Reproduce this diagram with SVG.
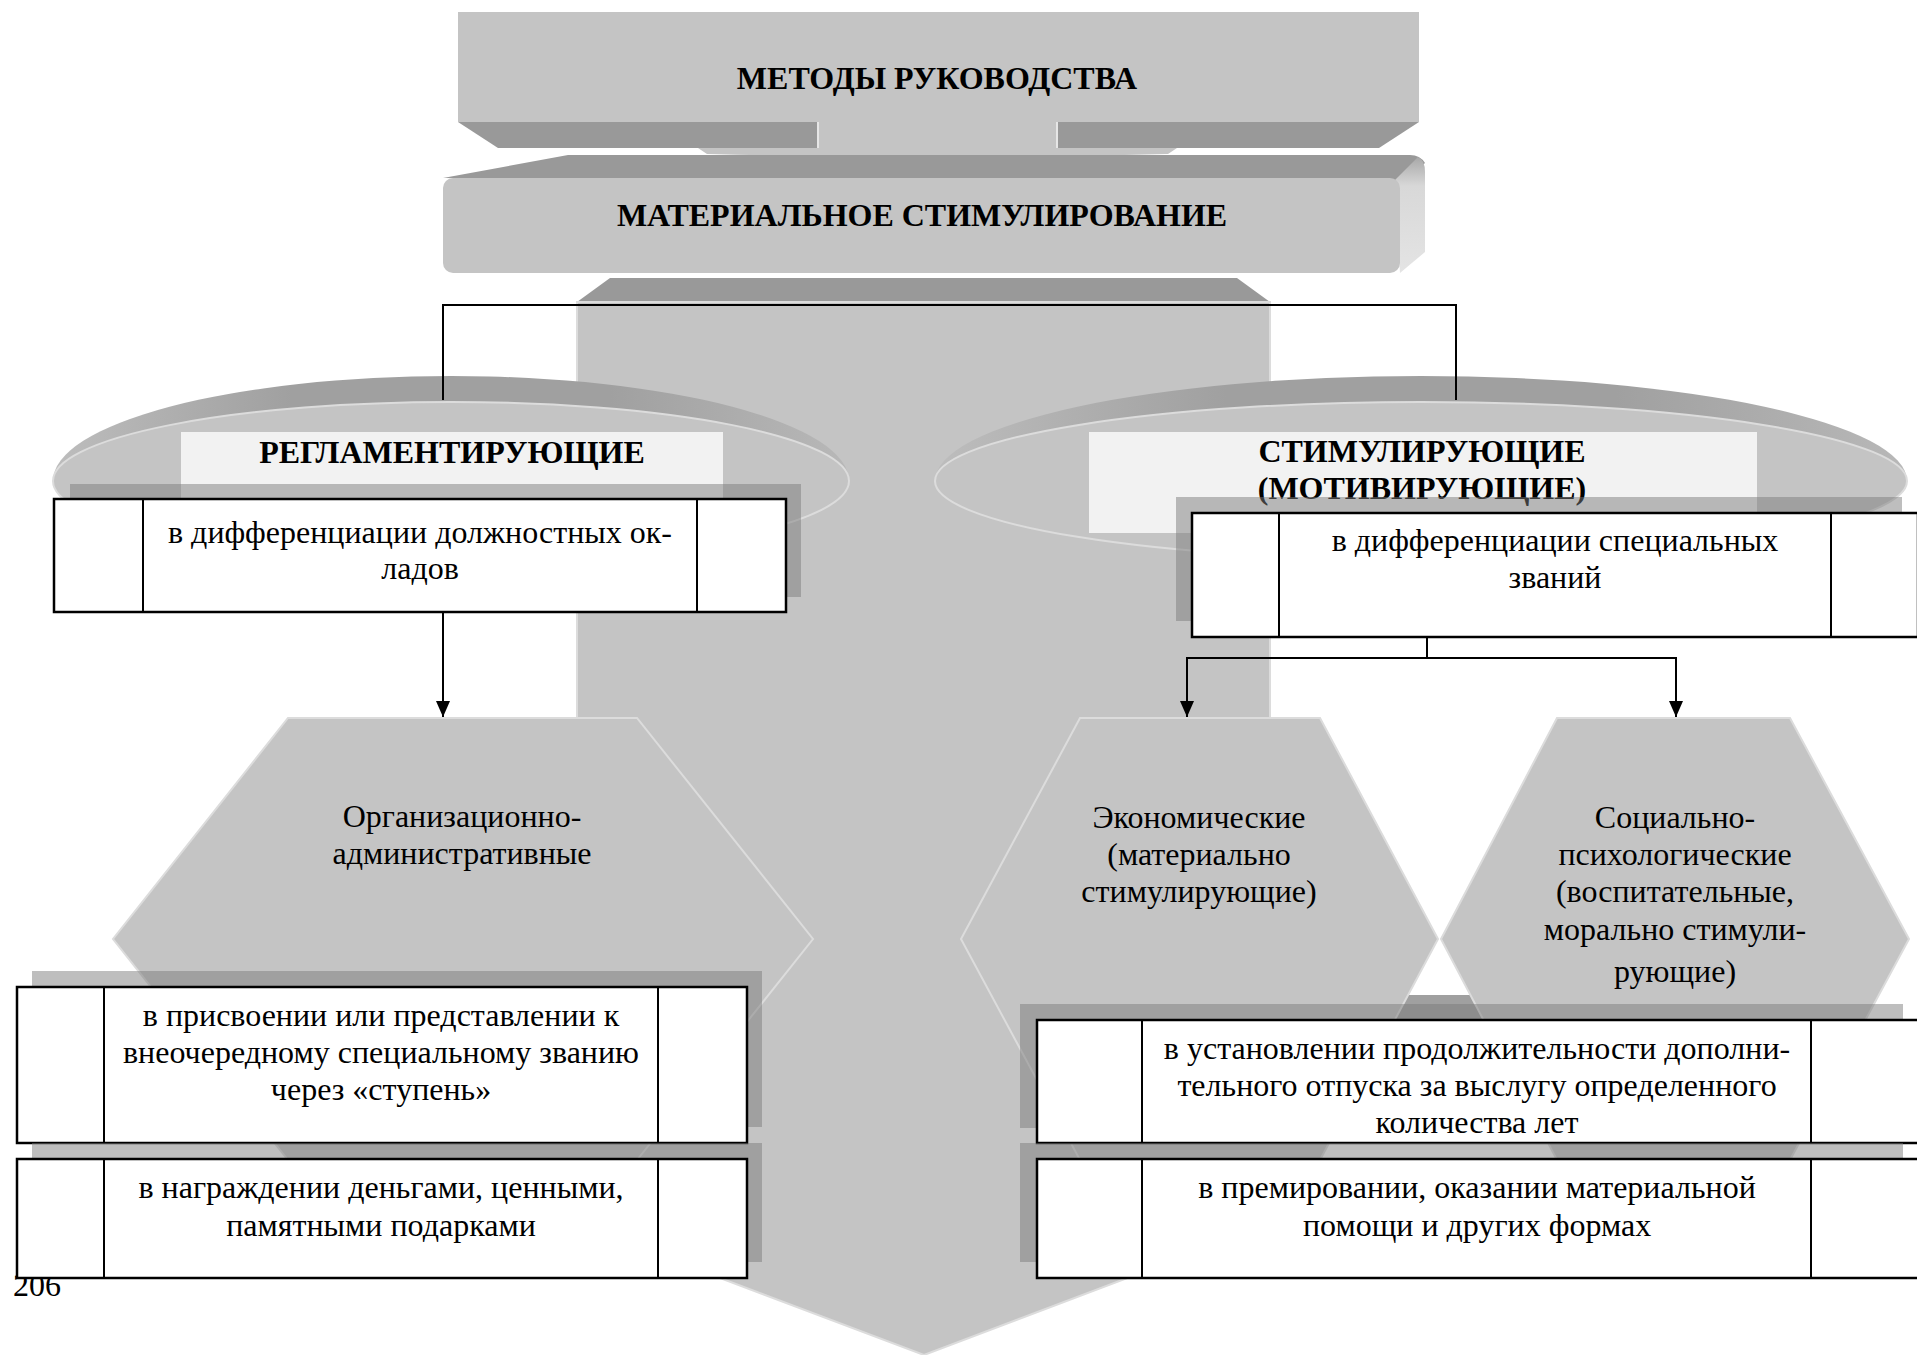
<svg xmlns="http://www.w3.org/2000/svg" width="1917" height="1355" viewBox="0 0 1917 1355">
<defs>
<style>
.face{fill:#c4c4c4}
.bevel{fill:#999999}
.edge{fill:#c4c4c4;stroke:#dcdcdc;stroke-width:2}
.lab{fill:#f2f2f2}
.shadow{fill:#7b7b7b;fill-opacity:0.49}
.box{fill:#ffffff;stroke:#000;stroke-width:2.5}
.div{stroke:#000;stroke-width:2;fill:none}
.conn{stroke:#000;stroke-width:2;fill:none}
.h{font-family:"Liberation Serif","Times New Roman",serif;font-weight:bold;font-size:32px;fill:#000;text-anchor:middle}
.t{font-family:"Liberation Serif","Times New Roman",serif;font-size:32px;fill:#000;text-anchor:middle}
</style>
<linearGradient id="rim" x1="0" y1="0" x2="1" y2="0">
<stop offset="0" stop-color="#bdbdbd"/>
<stop offset="0.3" stop-color="#a0a0a0"/>
<stop offset="0.7" stop-color="#a0a0a0"/>
<stop offset="1" stop-color="#b8b8b8"/>
</linearGradient>
<linearGradient id="side" x1="0" y1="0" x2="0" y2="1">
<stop offset="0" stop-color="#a8a8a8"/>
<stop offset="0.25" stop-color="#d8d8d8"/>
<stop offset="1" stop-color="#e4e4e4"/>
</linearGradient>
<marker id="ah" markerUnits="userSpaceOnUse" markerWidth="16" markerHeight="14" refX="16" refY="7" orient="auto">
<path d="M0,0 L16,7 L0,14 Z" fill="#000"/>
</marker>
</defs>

<g id="node-metody">
<rect class="face" x="458" y="12" width="961" height="110"/>
<polygon class="bevel" points="458,122 1419,122 1379,148 498,148"/>
<path class="face" d="M698,148 L1177,148 L1168,154 Q938,160 707,154 Z"/>
<rect class="face" x="817" y="122" width="241" height="33"/>
<line x1="818" y1="122" x2="818" y2="148" stroke="#e6e6e6" stroke-width="2"/>
<line x1="1057" y1="122" x2="1057" y2="148" stroke="#e6e6e6" stroke-width="2"/>
<text class="h" x="937" y="89">МЕТОДЫ РУКОВОДСТВА</text>
</g>

<g id="node-material">
<path class="bevel" d="M568,155 L1410,155 Q1420,155 1425,163 L1400,185 L443,178 Z"/>
<path fill="url(#side)" d="M1395,180 L1418,157 Q1425,160 1425,172 L1425,252 L1400,273 Z"/>
<rect class="face" x="443" y="178" width="957" height="95" rx="10"/>
<text class="h" x="922" y="226">МАТЕРИАЛЬНОЕ СТИМУЛИРОВАНИЕ</text>
</g>

<g id="node-arrow">
<polygon class="bevel" points="610,278 1237,278 1270,302 577,302"/>
<polygon class="edge" points="577,302 1270,302 1270,1224 924,1355 577,1224"/>
</g>

<g id="node-reglament">
<path fill="url(#rim)" d="M53,481 A398,105 0 0 1 849,481 Z"/>
<ellipse class="edge" cx="451" cy="481" rx="398" ry="79"/>
<rect class="lab" x="181" y="432" width="542" height="68"/>
<text class="h" x="452" y="463">РЕГЛАМЕНТИРУЮЩИЕ</text>
</g>

<g id="node-stimul">
<path fill="url(#rim)" d="M935,481 A486,105 0 0 1 1907,481 Z"/>
<ellipse class="edge" cx="1421" cy="481" rx="486" ry="79"/>
<rect class="lab" x="1089" y="432" width="668" height="101"/>
<text class="h" x="1422" y="462">СТИМУЛИРУЮЩИЕ</text>
<text class="h" x="1422" y="499">(МОТИВИРУЮЩИЕ)</text>
</g>

<rect x="1380" y="995" width="120" height="25" fill="#a0a0a0"/>

<g id="node-org">
<polygon class="edge" points="288,718 637,718 813,939 637,1160 288,1160 113,939"/>
<text class="t" x="462" y="827">Организационно-</text>
<text class="t" x="462" y="864">административные</text>
</g>

<g id="node-econ">
<polygon class="edge" points="1080,718 1320,718 1438,939 1320,1160 1080,1160 961,939"/>
<text class="t" x="1199" y="828">Экономические</text>
<text class="t" x="1199" y="865">(материально</text>
<text class="t" x="1199" y="902">стимулирующие)</text>
</g>

<g id="node-soc">
<polygon class="edge" points="1557,718 1790,718 1909,939 1790,1160 1557,1160 1441,939"/>
<text class="t" x="1675" y="828">Социально-</text>
<text class="t" x="1675" y="865">психологические</text>
<text class="t" x="1675" y="902">(воспитательные,</text>
<text class="t" x="1675" y="940">морально стимули-</text>
<text class="t" x="1675" y="982">рующие)</text>
</g>

<g id="node-box1">
<rect class="shadow" x="70" y="484" width="731" height="113"/>
<rect class="box" x="54" y="499" width="732" height="113"/>
<path class="div" d="M143,499 V612 M697,499 V612"/>
<text class="t" x="420" y="543">в дифференциации должностных ок-</text>
<text class="t" x="420" y="579">ладов</text>
</g>

<g id="node-box2">
<rect class="shadow" x="1176" y="497" width="726" height="124"/>
<rect class="box" x="1192" y="513" width="726" height="124"/>
<path class="div" d="M1279,513 V637 M1831,513 V637"/>
<text class="t" x="1555" y="551">в дифференциации специальных</text>
<text class="t" x="1555" y="588">званий</text>
</g>

<text class="t" x="13" y="1296" style="text-anchor:start">206</text>

<g id="node-box3">
<rect class="shadow" x="32" y="971" width="730" height="156"/>
<rect class="box" x="17" y="987" width="730" height="156"/>
<path class="div" d="M104,987 V1143 M658,987 V1143"/>
<text class="t" x="381" y="1026">в присвоении или представлении к</text>
<text class="t" x="381" y="1063">внеочередному специальному званию</text>
<text class="t" x="381" y="1100">через «ступень»</text>
</g>

<g id="node-box4">
<rect class="shadow" x="32" y="1143" width="730" height="119"/>
<rect class="box" x="17" y="1159" width="730" height="119"/>
<path class="div" d="M104,1159 V1278 M658,1159 V1278"/>
<text class="t" x="381" y="1198">в награждении деньгами, ценными,</text>
<text class="t" x="381" y="1236">памятными подарками</text>
</g>

<g id="node-box5">
<rect class="shadow" x="1020" y="1004" width="883" height="124"/>
<rect class="box" x="1037" y="1020" width="882" height="123"/>
<path class="div" d="M1142,1020 V1143 M1811,1020 V1143"/>
<text class="t" x="1477" y="1059">в установлении продолжительности дополни-</text>
<text class="t" x="1477" y="1096">тельного отпуска за выслугу определенного</text>
<text class="t" x="1477" y="1133">количества лет</text>
</g>

<g id="node-box6">
<rect class="shadow" x="1020" y="1143" width="883" height="119"/>
<rect class="box" x="1037" y="1159" width="882" height="119"/>
<path class="div" d="M1142,1159 V1278 M1811,1159 V1278"/>
<text class="t" x="1477" y="1198">в премировании, оказании материальной</text>
<text class="t" x="1477" y="1236">помощи и других формах</text>
</g>

<g id="connectors">
<path class="conn" d="M443,400 V305 H1456 V400"/>
<path class="conn" d="M443,612 V717" marker-end="url(#ah)"/>
<path class="conn" d="M1427,637 V658 H1187 V717" marker-end="url(#ah)"/>
<path class="conn" d="M1427,658 H1676 V717" marker-end="url(#ah)"/>
</g>
</svg>
